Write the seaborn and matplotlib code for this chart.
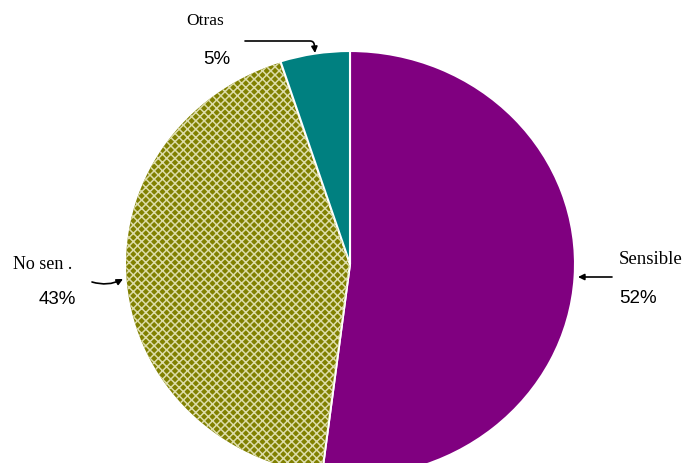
import matplotlib
matplotlib.use("Agg")
import matplotlib.pyplot as plt
import matplotlib.patches as mpatches
import seaborn as sns

categories = ["Sensible", "No sen .", "Otras"]
values = [52, 43, 5]
pct_labels = ["52%", "43%", "5%"]
colors = ["#800080", "#808000", "#008080"]

sns.set_theme(style="white")
plt.rcParams["hatch.linewidth"] = 1.1

W, H = 686, 464
fig = plt.figure(figsize=(W / 100, H / 100), dpi=100)
ax = fig.add_axes([0, 0, 1, 1])

cx, cy, rx, ry = 350, 265, 225, 213

wedges, _ = ax.pie(values, colors=colors, startangle=90, counterclock=False,
                   wedgeprops=dict(edgecolor="white", linewidth=1.5))
ax.set_aspect("auto")
ax.set_xlim(-cx / rx, (W - cx) / rx)
ax.set_ylim((cy - H) / ry, cy / ry)
ax.axis("off")

# hatch overlay for olive wedge
w = wedges[1]
hat = mpatches.Wedge(w.center, w.r * 0.995, w.theta1 + 0.3, w.theta2 - 0.3, facecolor="none",
                     edgecolor="#dcdca8", hatch="xxxx", linewidth=0)
ax.add_patch(hat)

def px(x, y):
    return ((x - cx) / rx, (cy - y) / ry)

serif = ["Liberation Serif", "DejaVu Serif"]
sans = ["Liberation Sans", "DejaVu Sans"]

# Otras
ax.text(*px(186, 21), categories[2], family=serif, fontsize=12.5, ha="left", va="center", color="black")
ax.text(*px(203, 60), pct_labels[2], family=sans, fontsize=13.5, ha="left", va="center", color="black")
ax.annotate("", xy=px(315, 54), xytext=px(245, 42),
            arrowprops=dict(arrowstyle="-|>", color="black", lw=1.2,
                            connectionstyle="angle,angleA=0,angleB=95,rad=4",
                            mutation_scale=9, shrinkA=0, shrinkB=0))

# Sensible
ax.text(*px(619, 260), categories[0], family=serif, fontsize=13.5, ha="left", va="center", color="black")
ax.text(*px(619, 299), pct_labels[0], family=sans, fontsize=13.5, ha="left", va="center", color="black")
ax.annotate("", xy=px(578, 278), xytext=px(612, 278),
            arrowprops=dict(arrowstyle="-|>", color="black", lw=1.2,
                            mutation_scale=9, shrinkA=0, shrinkB=0))

# No sen.
ax.text(*px(13, 265), categories[1], family=serif, fontsize=13, ha="left", va="center", color="black")
ax.text(*px(39, 300), pct_labels[1], family=sans, fontsize=13.5, ha="left", va="center", color="black")
ax.annotate("", xy=px(123, 280), xytext=px(92, 283),
            arrowprops=dict(arrowstyle="-|>", color="black", lw=1.2,
                            connectionstyle="arc3,rad=0.2",
                            mutation_scale=9, shrinkA=0, shrinkB=0))

fig.savefig("out.png", dpi=100, facecolor="white")
